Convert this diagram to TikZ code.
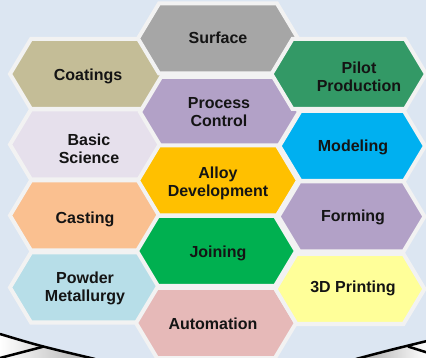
\documentclass[tikz,border=0pt]{standalone}
\usepackage{fontspec}
\setmainfont{Liberation Sans}
\definecolor{bgblue}{HTML}{DCE6F2}
\definecolor{cellborder}{HTML}{F2F2F2}
\definecolor{cSurface}{HTML}{A6A6A6}
\definecolor{cCoatings}{HTML}{C4BD97}
\definecolor{cPilot}{HTML}{339966}
\definecolor{cProcess}{HTML}{B2A1C7}
\definecolor{cBasic}{HTML}{E6E0EC}
\definecolor{cModeling}{HTML}{00B0F0}
\definecolor{cAlloy}{HTML}{FFC000}
\definecolor{cCasting}{HTML}{FAC090}
\definecolor{cForming}{HTML}{B2A1C7}
\definecolor{cJoining}{HTML}{00B050}
\definecolor{cPowder}{HTML}{B7DEE8}
\definecolor{cPrinting}{HTML}{FFFF99}
\definecolor{cAutomation}{HTML}{E6B9B8}
% elongated hexagon: left vertex x, right vertex x, centre y, fill colour
\newcommand{\hexcell}[4]{%
  \path[cell, fill=#4] (#1,#3) -- ({#1+21},{#3-35}) -- ({#2-21},{#3-35})
    -- (#2,#3) -- ({#2-21},{#3+35}) -- ({#1+21},{#3+35}) -- cycle;}
\begin{document}
\begin{tikzpicture}[x=1pt,y=-1pt,
  cell/.style={draw=cellborder, line width=4pt, line join=miter},
  lbl/.style={font=\fontsize{16}{18}\selectfont\bfseries, align=center,
    text=black!92, inner sep=0pt},
  cover/.style={draw=black, line width=2.5pt}]
% background
\fill[bgblue] (0,0) rectangle (426,358);
\useasboundingbox (0,0) rectangle (426,358);

% book cover edges along the bottom
\shade[left color=white, right color=gray!65]
  (0,334) .. controls (40,346) .. (95,359) -- (0,359) -- cycle;
\shade[left color=gray!70, right color=white]
  (356,359) .. controls (390,350) .. (427,341) -- (427,359) -- cycle;
\draw[cover] (0,358) -- (44,346.5);
\draw[cover] (0,334) .. controls (40,346) .. (95,359);
\draw[cover] (408,346.5) -- (427,352.5);
\draw[cover] (356,359) .. controls (390,350) .. (427,341);

% left column
\hexcell{10}{166}{74}{cCoatings}
\hexcell{10}{166}{144.5}{cBasic}
\hexcell{10}{166}{215.5}{cCasting}
\hexcell{10}{166}{287.5}{cPowder}
% middle column
\hexcell{138}{298}{38.5}{cSurface}
\hexcell{140}{299}{112}{cProcess}
\hexcell{138}{298}{180.5}{cAlloy}
\hexcell{137}{296}{251}{cJoining}
\hexcell{136}{296}{323}{cAutomation}
% right column
\hexcell{271.5}{426}{74}{cPilot}
\hexcell{279.5}{425}{146}{cModeling}
\hexcell{278.5}{424.5}{216.5}{cForming}
\hexcell{275.5}{424.5}{289}{cPrinting}

% labels
\node[lbl] (surface)    at (218,37.5)  {Surface};
\node[lbl] (coatings)   at (88,76.5)   {Coatings};
\node[lbl] (pilot)      at (359,77)    {Pilot\\Production};
\node[lbl] (process)    at (219,112.5) {Process\\Control};
\node[lbl] (basic)      at (89,149)    {Basic\\Science};
\node[lbl] (modeling)   at (353,147.5) {Modeling};
\node[lbl] (alloy)      at (218,183)   {Alloy\\Development};
\node[lbl] (casting)    at (85,219.5)  {Casting};
\node[lbl] (forming)    at (353,217.5) {Forming};
\node[lbl] (joining)    at (218,253.5) {Joining};
\node[lbl] (powder)     at (85,288)    {Powder\\Metallurgy};
\node[lbl] (printing)   at (353,288.5) {3D Printing};
\node[lbl] (automation) at (213,323.5) {Automation};
\end{tikzpicture}
\end{document}
